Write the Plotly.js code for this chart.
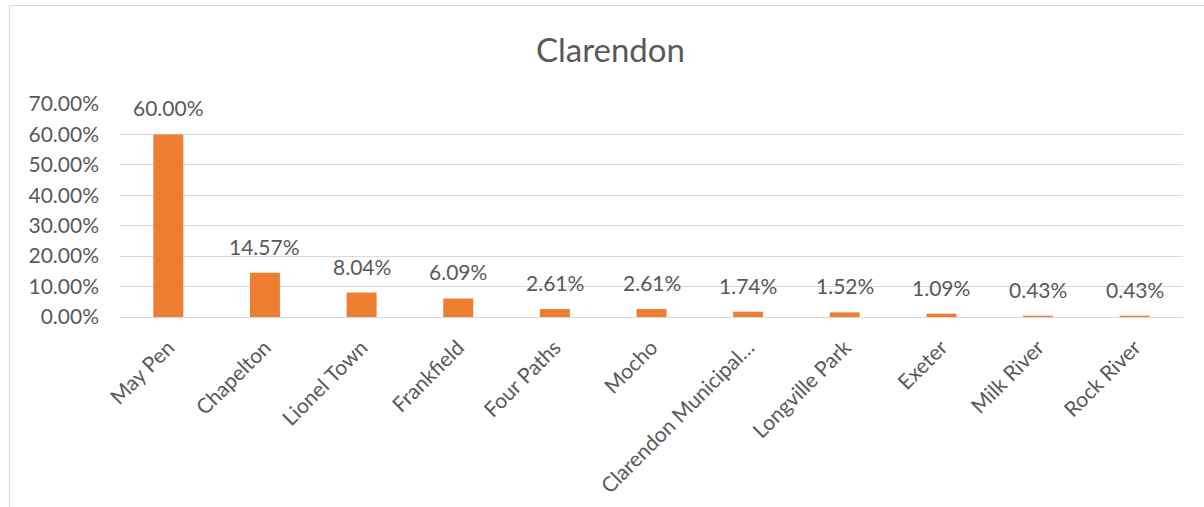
<!DOCTYPE html>
<html>
<head>
<meta charset="utf-8">
<script src="https://cdn.plot.ly/plotly-3.0.1.min.js"></script>
<style>
html,body{margin:0;padding:0;background:#fff;}
#chart{width:1204px;height:507px;}
</style>
</head>
<body>
<div id="chart"></div>
<script>
const categories = ["May Pen","Chapelton","Lionel Town","Frankfield","Four Paths","Mocho","Clarendon Municipal…","Longville Park","Exeter","Milk River","Rock River"];
const values = [60.00,14.57,8.04,6.09,2.61,2.61,1.74,1.52,1.09,0.43,0.43];
const yTicks = [0,10,20,30,40,50,60,70];
const yTickText = yTicks.map(v => v.toFixed(2) + "%");
const chartTitle = "Clarendon";

const font = "Lato, 'Open Sans', sans-serif";
const grey = "#595959";

const trace = {
  type: "bar",
  x: categories,
  y: values,
  marker: {color: "#ED7D31"},
  hoverinfo: "x+y"
};

const labels = categories.map((c, i) => ({
  x: c, y: values[i], xref: "x", yref: "y",
  text: values[i].toFixed(2) + "%",
  showarrow: false, yanchor: "bottom", xanchor: "center",
  yshift: 12,
  font: {family: font, size: 21, color: grey}
}));

const layout = {
  width: 1204, height: 507,
  margin: {l: 120, r: 21, t: 104, b: 190},
  paper_bgcolor: "#fff", plot_bgcolor: "#fff",
  title: {text: chartTitle, font: {family: font, size: 33, color: grey}, x: 0.507, xref: "container", xanchor: "center", y: 0.9, yanchor: "middle", yref: "container"},
  bargap: 0.69,
  showlegend: false,
  annotations: labels,
  xaxis: {
    type: "category",
    tickangle: -45,
    tickfont: {family: font, size: 21, color: grey},
    showline: true, linecolor: "#d9d9d9", linewidth: 1,
    ticks: "", showgrid: false,
    ticklabelstandoff: 9
  },
  yaxis: {
    range: [0, 70],
    tickmode: "array",
    tickvals: yTicks,
    ticktext: yTickText,
    tickfont: {family: font, size: 21, color: grey},
    showgrid: true, gridcolor: "#d9d9d9", gridwidth: 1,
    zeroline: false, showline: false, ticks: "",
    ticklabelstandoff: 20
  },
  shapes: [
    {type: "line", xref: "paper", yref: "paper", x0: -0.104, x1: -0.104, y0: -1.2, y1: 1.4624, line: {color: "#d9d9d9", width: 1}},
    {type: "line", xref: "paper", yref: "paper", x0: -0.104, x1: 1.1, y0: 1.4624, y1: 1.4624, line: {color: "#d9d9d9", width: 1}}
  ]
};

Plotly.newPlot("chart", [trace], layout, {displayModeBar: false, staticPlot: true});
</script>
</body>
</html>
